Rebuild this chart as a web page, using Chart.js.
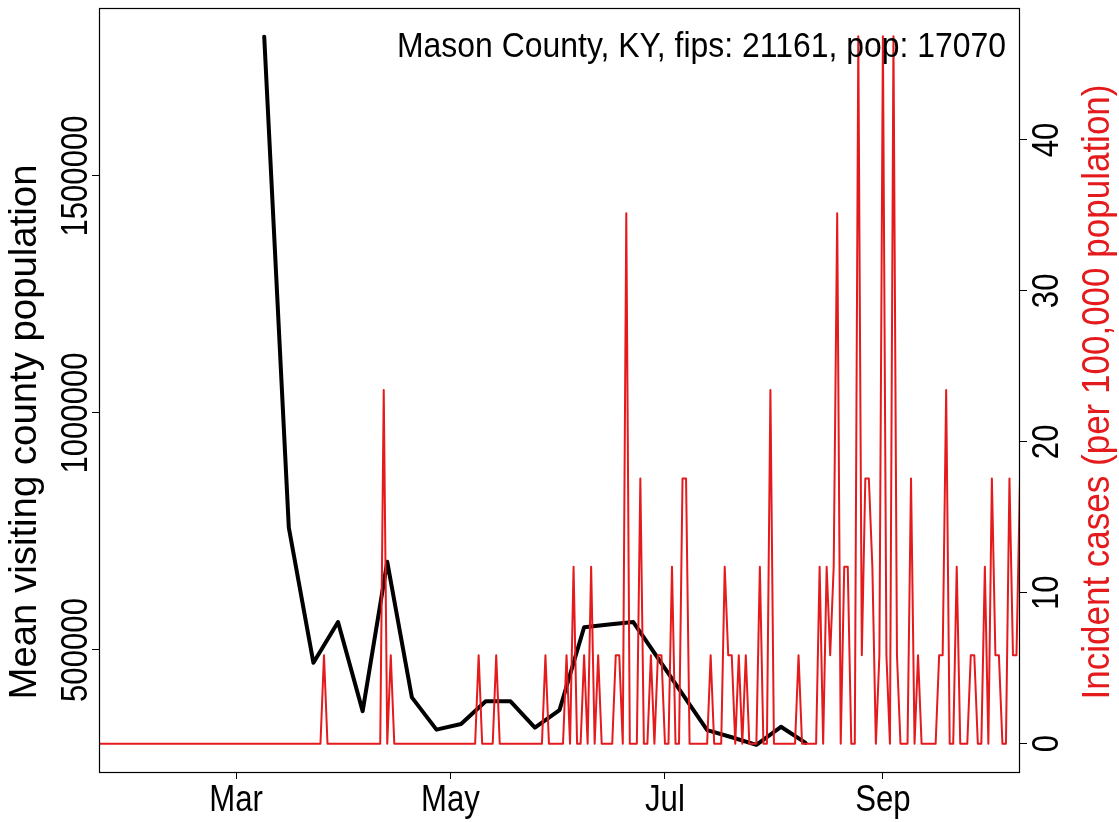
<!DOCTYPE html>
<html>
<head>
<meta charset="utf-8">
<script src="https://cdn.jsdelivr.net/npm/chart.js@4.4.1/dist/chart.umd.min.js"></script>
<style>
  html, body { margin: 0; padding: 0; background: #fff; }
  #wrap { width: 1119px; height: 822px; }
</style>
</head>
<body>
<div id="wrap"><canvas id="chart" width="1119" height="822"></canvas></div>
<script>
// Day numbers count from 1 Jan 2020 (= day 0)
const firstCaseDay = 21 // 22 Jan, first day of the daily series

// Daily incident cases per 100,000 (one case = 5.86), 22 Jan .. 10 Oct
const incidentCases = [
  0, 0, 0, 0, 0, 0, 0, 0, 0, 0,                    // 21
  0, 0, 0, 0, 0, 0, 0, 0, 0, 0,                    // 31
  0, 0, 0, 0, 0, 0, 0, 0, 0, 0,                    // 41
  0, 0, 0, 0, 0, 0, 0, 0, 0, 0,                    // 51
  0, 0, 0, 0, 0, 0, 0, 0, 0, 0,                    // 61
  0, 0, 0, 0, 0, 0, 0, 0, 0, 0,                    // 71
  0, 0, 0, 0, 5.86, 0, 0, 0, 0, 0,                 // 81
  0, 0, 0, 0, 0, 0, 0, 0, 0, 0,                    // 91
  0, 23.43, 0, 5.86, 0, 0, 0, 0, 0, 0,             // 101
  0, 0, 0, 0, 0, 0, 0, 0, 0, 0,                    // 111
  0, 0, 0, 0, 0, 0, 0, 0, 5.86, 0,                 // 121
  0, 0, 0, 5.86, 0, 0, 0, 0, 0, 0,                 // 131
  0, 0, 0, 0, 0, 0, 0, 5.86, 0, 0,                 // 141
  0, 0, 0, 5.86, 0, 11.72, 0, 0, 5.86, 0,          // 151
  11.72, 0, 5.86, 0, 0, 0, 0, 5.86, 5.86, 0,       // 161
  35.15, 0, 0, 0, 17.57, 0, 0, 5.86, 0, 5.86,      // 171
  5.86, 0, 0, 11.72, 0, 0, 17.57, 17.57, 0, 0,     // 181
  0, 0, 0, 0, 5.86, 0, 0, 0, 11.72, 5.86,          // 191
  5.86, 0, 5.86, 0, 5.86, 0, 0, 0, 11.72, 0,       // 201
  0, 23.43, 0, 0, 0, 0, 0, 0, 0, 5.86,             // 211
  0, 0, 0, 0, 0, 11.72, 0, 11.72, 5.86, 11.72,     // 221
  35.15, 0, 11.72, 11.72, 0, 0, 46.87, 5.86, 17.57, 17.57, // 231
  11.72, 0, 5.86, 46.87, 5.86, 0, 46.87, 5.86, 0, 0,       // 241
  0, 17.57, 0, 5.86, 0, 0, 0, 0, 0, 5.86,          // 251
  5.86, 23.43, 0, 0, 11.72, 0, 0, 0, 5.86, 5.86,   // 261
  0, 0, 11.72, 0, 17.57, 5.86, 5.86, 0, 0, 17.57,  // 271
  5.86, 5.86, 17.57                                // 281
]

// Weekly mean visiting population
const visitDays = [68, 75, 82, 89, 96, 103, 110, 117, 124, 131, 138, 145,
  152, 159, 166, 173, 180, 187, 194, 201, 208, 215, 222]
const visitValues = [1794000, 758000, 473000, 559000, 371000, 686000, 400000,
  332000, 344000, 392000, 392000, 336000, 373000, 548000, 554000, 559000,
  483000, 407000, 331000, 316000, 300000, 338000, 304000]

const monthTicks = [60, 121, 182, 244]
const monthLabels = ['Mar', 'May', 'Jul', 'Sep']
const leftTicks = [500000, 1000000, 1500000]
const rightTicks = [0, 10, 20, 30, 40]

const titleText = 'Mason County, KY, fips: 21161, pop: 17070'
const leftTitle = 'Mean visiting county population'
const rightTitle = 'Incident cases (per 100,000 population)'
const red = '#e41a1c'

// The R picture uses a Helvetica that looks slightly squeezed along the text
const family = "'Liberation Sans', Arial, sans-serif"
const squeeze = 0.865

// o.length: stretch the text so that it covers that many pixels
function drawText(ctx, text, x, y, o) {
  ctx.save()
  ctx.translate(x, y)
  if (o.rotate) ctx.rotate(o.rotate)
  ctx.font = `${o.size}px ${family}`
  const sx = o.length ? o.length / ctx.measureText(text).width : squeeze
  ctx.scale(sx, 1)
  ctx.fillStyle = o.color || '#000'
  ctx.textAlign = o.align || 'center'
  ctx.textBaseline = o.baseline || 'middle'
  ctx.fillText(text, 0, 0)
  ctx.restore()
}

// Box, tick labels, axis titles and the county label, R style
const rDecor = {
  id: 'rDecor',
  afterDraw(chart) {
    const ctx = chart.ctx
    const a = chart.chartArea
    const { x, y, y2 } = chart.scales
    ctx.save()
    ctx.strokeStyle = '#000'
    ctx.lineWidth = 1.2
    ctx.strokeRect(a.left + 0.5, a.top + 0.5, a.right - a.left - 1, a.bottom - a.top)
    ctx.restore()

    monthTicks.forEach((v, i) => {
      drawText(ctx, monthLabels[i], x.getPixelForValue(v), 801, { size: 36 })
    })
    leftTicks.forEach(v => {
      drawText(ctx, String(v), 77, y.getPixelForValue(v), { size: 36, rotate: -Math.PI / 2 })
    })
    rightTicks.forEach(v => {
      drawText(ctx, String(v), 1048, y2.getPixelForValue(v), { size: 36, rotate: -Math.PI / 2 })
    })
    drawText(ctx, leftTitle, 26, 432, { size: 38, rotate: -Math.PI / 2, length: 535 })
    drawText(ctx, rightTitle, 1099, 392, { size: 38, rotate: -Math.PI / 2, length: 615, color: red })
    drawText(ctx, titleText, 1006, 57, { size: 35, align: 'right', baseline: 'alphabetic', length: 609 })
  }
}

const setTicks = list => scale => { scale.ticks = list.map(v => ({ value: v })) }
const tickGrid = { drawOnChartArea: false, drawTicks: true, tickLength: 7, color: '#000', lineWidth: 1 }

new Chart(document.getElementById('chart'), {
  type: 'line',
  data: {
    datasets: [
      {
        label: 'Incident cases',
        data: incidentCases.map((v, i) => ({ x: firstCaseDay + i, y: v })),
        yAxisID: 'y2',
        borderColor: red,
        borderWidth: 2,
        pointRadius: 0,
        borderJoinStyle: 'round',
        borderCapStyle: 'round',
        tension: 0,
      },
      {
        label: 'Mean visiting county population',
        data: visitDays.map((d, i) => ({ x: d, y: visitValues[i] })),
        yAxisID: 'y',
        borderColor: '#000',
        borderWidth: 4,
        pointRadius: 0,
        borderJoinStyle: 'round',
        borderCapStyle: 'round',
        tension: 0,
      },
    ],
  },
  options: {
    responsive: false,
    animation: false,
    devicePixelRatio: 1,
    events: [],
    layout: { padding: { top: 8, left: 0, right: 0, bottom: 0 } },
    plugins: { legend: { display: false }, tooltip: { enabled: false } },
    scales: {
      x: {
        type: 'linear',
        position: 'bottom',
        min: 21,
        max: 283,
        afterBuildTicks: setTicks(monthTicks),
        afterFit: s => { s.height = 50 },
        grid: tickGrid,
        border: { display: false },
        ticks: { display: false },
      },
      y: {
        position: 'left',
        min: 242600,
        max: 1854400,
        afterBuildTicks: setTicks(leftTicks),
        afterFit: s => { s.width = 99 },
        grid: tickGrid,
        border: { display: false },
        ticks: { display: false },
      },
      y2: {
        position: 'right',
        min: -1.875,
        max: 48.74,
        afterBuildTicks: setTicks(rightTicks),
        afterFit: s => { s.width = 99 },
        grid: tickGrid,
        border: { display: false },
        ticks: { display: false },
      },
    },
  },
  plugins: [rDecor],
})
</script>
</body>
</html>
